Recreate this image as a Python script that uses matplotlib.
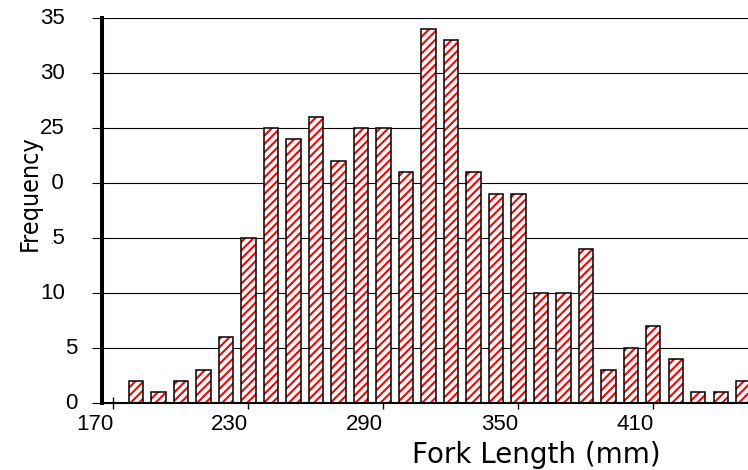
import matplotlib
matplotlib.use("Agg")
import matplotlib.pyplot as plt
from matplotlib.patches import Rectangle

# fork length bins (mm) and counts
lengths = [180, 190, 200, 210, 220, 230, 240, 250, 260, 270, 280, 290, 300, 310,
           320, 330, 340, 350, 360, 370, 380, 390, 400, 410, 420, 430, 440, 450]
counts = [2, 1, 2, 3, 6, 15, 25, 24, 26, 22, 25, 25, 21, 34,
          33, 21, 19, 19, 10, 10, 14, 3, 5, 7, 4, 1, 1, 2]
x_ticks = [170, 230, 290, 350, 410]
y_ticks = [0, 5, 10, 15, 20, 25, 30, 35]

plt.rcParams["hatch.linewidth"] = 1.5

fig = plt.figure(figsize=(7.48, 4.70), dpi=100)
ax = fig.add_axes([0.136, 0.142, 0.864, 0.819])

# gridlines behind bars
for v in y_ticks[1:]:
    ax.axhline(v, color="black", lw=0.8, zorder=1)

# hatched fill in red, then black outline on top
ax.bar(lengths, counts, width=6.4, facecolor="white", edgecolor="red",
       hatch="////", linewidth=0, zorder=2)
ax.bar(lengths, counts, width=6.4, fill=False, edgecolor="black",
       linewidth=1.1, zorder=3)

ax.set_xlim(164.8, 452.1)
ax.set_ylim(0, 35)

for s in ["top", "right"]:
    ax.spines[s].set_visible(False)
ax.spines["left"].set_linewidth(2.9)
ax.spines["bottom"].set_linewidth(1.5)
ax.spines["left"].set_zorder(4)
ax.spines["bottom"].set_zorder(4)

ax.set_xticks(x_ticks)
ax.set_xticklabels([str(t) for t in x_ticks], ha="right",
                   fontsize=16, family="Liberation Sans")
ax.tick_params(axis="x", direction="inout", length=8, width=1, pad=4)

ax.set_yticks(y_ticks)
ax.set_yticklabels([])
ax.tick_params(axis="y", direction="out", length=7.5, width=0.8)

# y tick labels drawn by hand (single digits sit closer to the axis)
for v in y_ticks:
    off = 17.3 if v < 10 else 26.6
    ax.annotate(str(v), xy=(0, v), xycoords=ax.get_yaxis_transform(),
                xytext=(-off, 0), textcoords="offset points",
                ha="right", va="center", fontsize=16,
                family="Liberation Sans", annotation_clip=False)

ax.set_xlabel("Fork Length (mm)", fontsize=20, family="DejaVu Sans")
ax.xaxis.set_label_coords(0.672, -0.097)
ax.xaxis.label.set_va("top")

# the y label sits on a white block that hides part of the tick labels
fig.add_artist(Rectangle((0.01, 0.475), 0.0595, 0.228, transform=fig.transFigure,
                         facecolor="white", edgecolor="none", zorder=4))
fig.text(0.040, 0.589, "Frequency", rotation=90, ha="center", va="center",
         fontsize=18, family="DejaVu Sans", fontstretch="condensed", zorder=5)

fig.savefig("out.png", dpi=100)
